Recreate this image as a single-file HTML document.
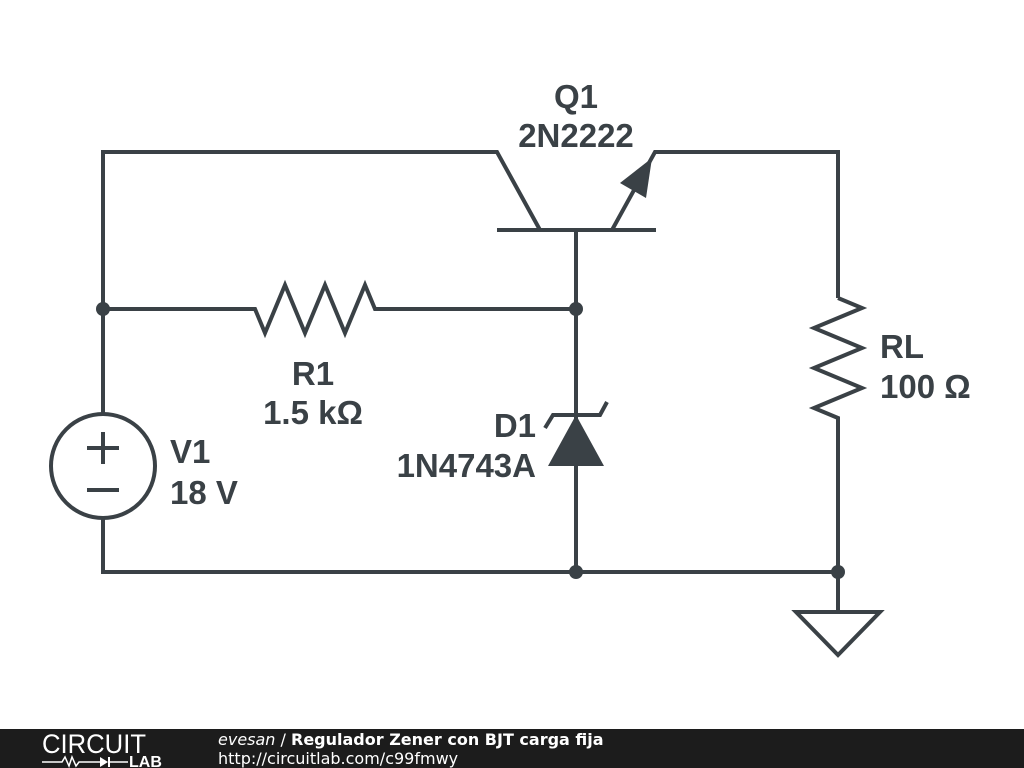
<!DOCTYPE html>
<html><head><meta charset="utf-8"><style>
body{margin:0;width:1024px;height:768px;background:#fff;overflow:hidden;position:relative;font-family:"Liberation Sans",sans-serif}
svg{position:absolute;left:0;top:0}
</style></head><body>
<svg width="1024" height="768" viewBox="0 0 1024 768">
<g stroke="#3a4146" stroke-width="4" fill="none" stroke-linejoin="miter">
<polyline points="103,413 103,152 497,152 540,230"/>
<line x1="497" y1="230" x2="656" y2="230"/>
<polyline points="612,230 655,152 838,152 838,298"/>
<line x1="576" y1="230" x2="576" y2="572"/>
<polyline points="103,309 255,309 265,333 285,285 305,333 325,285 345,333 365,285 375,309 576,309"/>
<polyline points="838,298 862,308 814,328 862,348 814,368 862,388 814,408 838,418 838,612"/>
<polyline points="103,519 103,572 838,572"/>
<circle cx="103" cy="466" r="52"/>
<line x1="87" y1="448" x2="119" y2="448"/><line x1="103" y1="432" x2="103" y2="464"/>
<line x1="87" y1="490" x2="119" y2="490"/>
<polyline points="545,428 553,415 600,415 607,402"/>
<polygon points="796,612 880,612 838,655"/>
</g>
<polygon points="576,415 548,466 604,466" fill="#3a4146"/>
<polygon points="652,158 620,183 646,198" fill="#3a4146"/>
<g fill="#3a4146"><circle cx="103" cy="309" r="7"/><circle cx="576" cy="309" r="7"/><circle cx="576" cy="572" r="7"/><circle cx="838" cy="572" r="7"/></g>
<g fill="#3a4146" font-family="Liberation Sans, sans-serif" font-weight="bold" font-size="33">
<text x="576" y="108" text-anchor="middle">Q1</text>
<text x="576" y="147" text-anchor="middle">2N2222</text>
<text x="313" y="385" text-anchor="middle">R1</text>
<text x="313" y="424" text-anchor="middle">1.5 kΩ</text>
<text x="536" y="437" text-anchor="end">D1</text>
<text x="536" y="477" text-anchor="end">1N4743A</text>
<text x="170" y="463">V1</text>
<text x="170" y="504">18 V</text>
<text x="880" y="358">RL</text>
<text x="880" y="398">100 Ω</text>
</g>
<rect x="0" y="729" width="1024" height="39" fill="#1c1c1c"/>
<text x="42" y="753" fill="#fff" font-size="27" font-family="Liberation Sans, sans-serif" textLength="104" lengthAdjust="spacingAndGlyphs">CIRCUIT</text>
<polyline points="42,762 62,762 65,757 69,766 72,757 76,766 79,762 100,762" stroke="#fff" stroke-width="1.5" fill="none"/>
<polygon points="100,757 100,767 108,762" fill="#fff"/><line x1="109" y1="757" x2="109" y2="767" stroke="#fff" stroke-width="2"/>
<line x1="109" y1="762" x2="128" y2="762" stroke="#fff" stroke-width="1.5"/>
<text x="129" y="767" fill="#fff" font-size="16" font-weight="bold" font-family="Liberation Sans, sans-serif">LAB</text>
<text x="218" y="745" fill="#fff" font-size="16" font-family="DejaVu Sans, sans-serif"><tspan font-style="italic">evesan</tspan> / <tspan font-weight="bold">Regulador Zener con BJT carga fija</tspan></text>
<text x="218" y="764" fill="#fff" font-size="16" font-family="DejaVu Sans, sans-serif">http://circuitlab.com/c99fmwy</text>
</svg>
</body></html>
